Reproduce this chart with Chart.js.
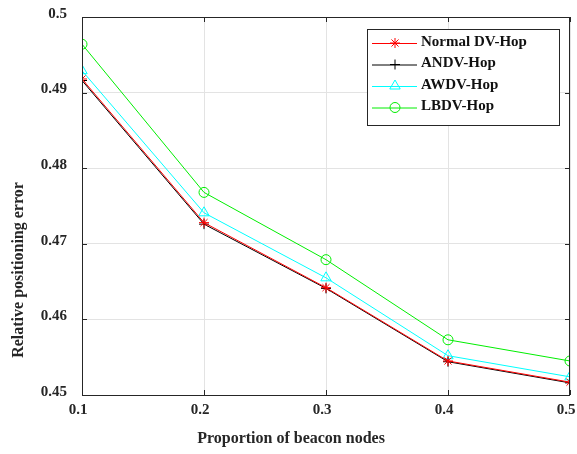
<!DOCTYPE html>
<html>
<head>
<meta charset="utf-8">
<script src="https://cdn.jsdelivr.net/npm/chart.js@4.4.1/dist/chart.umd.min.js"></script>
<style>
  html, body { margin: 0; padding: 0; background: #fff; }
  #wrap { width: 577px; height: 454px; position: relative; }
</style>
</head>
<body>
<div id="wrap"><canvas id="err-chart"></canvas></div>
<script>
// Beacon proportion vs. relative positioning error
const beaconRatio = [0.1, 0.2, 0.3, 0.4, 0.5];
const normalDvHop = [0.4918, 0.4728, 0.4642, 0.4545, 0.4517];
const andvHop     = [0.4916, 0.4726, 0.4641, 0.4544, 0.4516];
const awdvHop     = [0.4929, 0.4741, 0.4655, 0.4552, 0.4524];
const lbdvHop     = [0.4964, 0.4768, 0.4679, 0.4573, 0.4545];
const xTicks = [0.1, 0.2, 0.3, 0.4, 0.5];
const yTicks = [0.45, 0.46, 0.47, 0.48, 0.49, 0.5];

const SERIF = '"Liberation Serif", "Times New Roman", serif';

function toPoints(ys) {
    return beaconRatio.map((x, i) => ({ x: x, y: ys[i] }));
}

function series(label, ys, color, style, radius) {
    return {
        label: label,
        data: toPoints(ys),
        borderColor: color,
        backgroundColor: 'rgba(0,0,0,0)',
        borderWidth: 1,
        pointStyle: style,
        pointRadius: radius,
        pointBorderWidth: 1,
        pointBorderColor: color,
        pointBackgroundColor: 'rgba(0,0,0,0)',
        tension: 0
    };
}

// inward tick marks on all four sides + axis titles
const frameTicks = {
    id: 'frameTicks',
    afterDraw(chart) {
        const ctx = chart.ctx;
        const a = chart.chartArea;
        const xs = chart.scales.x, ys = chart.scales.y;
        const len = 5;
        ctx.save();
        ctx.strokeStyle = '#262626';
        ctx.lineWidth = 1;
        ctx.beginPath();
        xTicks.forEach(v => {
            const px = Math.round(xs.getPixelForValue(v)) + 0.5;
            ctx.moveTo(px, a.bottom); ctx.lineTo(px, a.bottom - len);
            ctx.moveTo(px, a.top); ctx.lineTo(px, a.top + len);
        });
        yTicks.forEach(v => {
            const py = Math.round(ys.getPixelForValue(v)) + 0.5;
            ctx.moveTo(a.left, py); ctx.lineTo(a.left + len, py);
            ctx.moveTo(a.right, py); ctx.lineTo(a.right - len, py);
        });
        ctx.stroke();
        ctx.strokeRect(Math.round(a.left) + 0.5, Math.round(a.top) + 0.5,
                       Math.round(a.right - a.left) - 1, Math.round(a.bottom - a.top));

        ctx.fillStyle = '#262626';
        ctx.font = 'bold 16px ' + SERIF;
        ctx.textAlign = 'center';
        ctx.textBaseline = 'middle';
        ctx.fillText('Proportion of beacon nodes', 291, 439);
        ctx.translate(19, 270);
        ctx.rotate(-Math.PI / 2);
        ctx.fillText('Relative positioning error', 0, 0);
        ctx.restore();
    }
};

// boxed legend in the upper right corner
const boxLegend = {
    id: 'boxLegend',
    afterDatasetsDraw(chart) {
        const ctx = chart.ctx;
        const x0 = 367, y0 = 29, w = 192, h = 96;
        ctx.save();
        ctx.fillStyle = '#fff';
        ctx.fillRect(x0, y0, w, h);
        ctx.strokeStyle = '#262626';
        ctx.lineWidth = 1;
        ctx.strokeRect(x0 + 0.5, y0 + 0.5, w, h);
        ctx.font = 'bold 15px ' + SERIF;
        ctx.textBaseline = 'middle';
        chart.data.datasets.forEach((ds, i) => {
            const cy = y0 + 14 + i * 21.5;
            ctx.strokeStyle = ds.borderColor;
            ctx.lineWidth = 1;
            ctx.beginPath();
            ctx.moveTo(x0 + 5, cy + 0.5);
            ctx.lineTo(x0 + 50, cy + 0.5);
            ctx.stroke();
            ctx.fillStyle = 'rgba(0,0,0,0)';
            Chart.helpers.drawPoint(ctx, {
                pointStyle: ds.pointStyle, radius: ds.pointRadius, borderWidth: 1
            }, x0 + 28, cy);
            ctx.fillStyle = '#111';
            ctx.fillText(ds.label, x0 + 54, cy - 1);
        });
        ctx.restore();
    }
};

new Chart(document.getElementById('err-chart'), {
    type: 'line',
    data: {
        datasets: [
            series('Normal DV-Hop', normalDvHop, '#ff0000', 'star', 5),
            series('ANDV-Hop', andvHop, '#000000', 'cross', 5),
            series('AWDV-Hop', awdvHop, '#00ffff', 'triangle', 6),
            series('LBDV-Hop', lbdvHop, '#00ee00', 'circle', 5)
        ]
    },
    options: {
        responsive: true,
        maintainAspectRatio: false,
        animation: false,
        layout: { padding: { left: 0, right: 2, top: 17, bottom: 0 } },
        plugins: {
            legend: { display: false },
            tooltip: { enabled: false }
        },
        scales: {
            x: {
                type: 'linear',
                min: 0.1,
                max: 0.5,
                afterBuildTicks(scale) { scale.ticks = xTicks.map(v => ({ value: v })); },
                afterFit(scale) {
                    scale.height = 59;
                    scale.paddingLeft = 0;
                    scale.paddingRight = 0;
                },
                ticks: {
                    font: { family: SERIF, size: 15, weight: 'bold' },
                    color: '#262626',
                    padding: 6,
                    labelOffset: -4,
                    maxRotation: 0,
                    callback: v => String(Math.round(v * 10) / 10)
                },
                grid: { color: '#e3e3e3', lineWidth: 1, drawTicks: false },
                border: { display: false }
            },
            y: {
                type: 'linear',
                min: 0.45,
                max: 0.5,
                afterBuildTicks(scale) { scale.ticks = yTicks.map(v => ({ value: v })); },
                afterFit(scale) {
                    scale.width = 82;
                    scale.paddingTop = 0;
                    scale.paddingBottom = 0;
                },
                ticks: {
                    font: { family: SERIF, size: 15, weight: 'bold' },
                    color: '#262626',
                    padding: 15,
                    labelOffset: -3,
                    callback: v => String(Math.round(v * 100) / 100)
                },
                grid: { color: '#e3e3e3', lineWidth: 1, drawTicks: false },
                border: { display: false }
            }
        }
    },
    plugins: [frameTicks, boxLegend]
});
</script>
</body>
</html>
